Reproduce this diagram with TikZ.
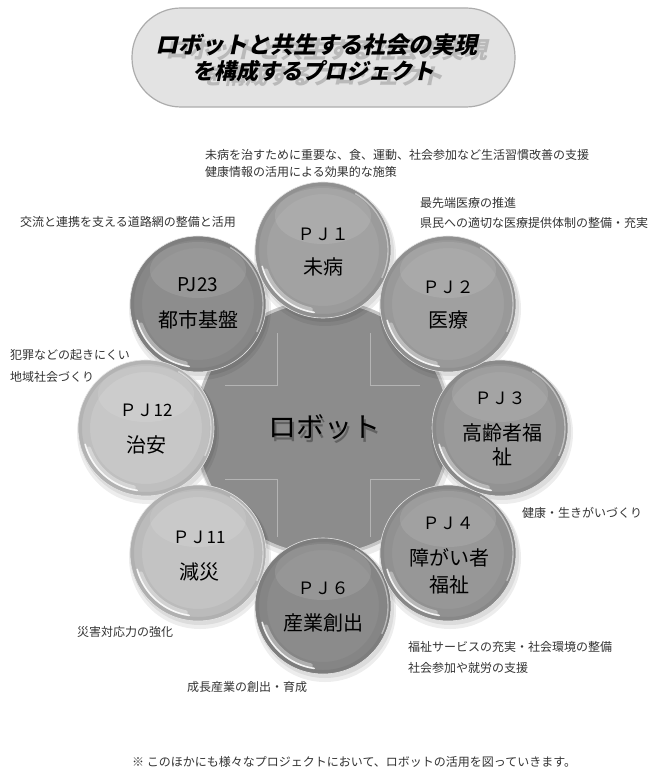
\documentclass[tikz,border=0pt]{standalone}
\usepackage{fontspec}
\setmainfont{Noto Sans CJK JP}
\newfontfamily\jp{Noto Sans CJK JP}
\newfontfamily\titlefont[FakeSlant=0.22]{Noto Sans CJK JP}
\definecolor{cA}{HTML}{A2A2A2}
\definecolor{cB}{HTML}{A0A0A0}
\definecolor{cC}{HTML}{9A9A9A}
\definecolor{cD}{HTML}{979797}
\definecolor{cE}{HTML}{8B8B8B}
\definecolor{cF}{HTML}{C3C3C3}
\definecolor{cG}{HTML}{C7C7C7}
\definecolor{cH}{HTML}{8D8D8D}
\definecolor{cCenter}{HTML}{8C8C8C}
\definecolor{txt}{HTML}{333333}
\tikzset{
  lbl/.style={anchor=west, inner sep=0pt, text=txt, font=\jp\fontsize{12}{14}\selectfont},
  ttl/.style={inner sep=0pt, font=\titlefont\bfseries\fontsize{23}{26}\selectfont},
  ttlb/.style={inner sep=0pt, font=\titlefont\bfseries\fontsize{22}{25}\selectfont},
  pjf/.style={inner sep=0pt, text=black, font=\jp\fontsize{17}{19}\selectfont},
  nmf/.style={inner sep=0pt, text=black, font=\jp\fontsize{20}{22}\selectfont},
  sat/.style={circle, minimum size=136pt, inner sep=0pt, draw=white!80!gray, line width=0.6pt,
    path picture={
      \draw[black, opacity=0.04, line width=12pt] (path picture bounding box.center) circle (62pt);
      \draw[black, opacity=0.06, line width=4pt] (path picture bounding box.center) circle (66pt);
      \fill[white, opacity=0.10] ([yshift=34pt]path picture bounding box.center) ellipse (48pt and 28pt);
      \draw[white, opacity=0.35, line width=5pt, line cap=round]
        ([shift={(200:61pt)}]path picture bounding box.center) arc[start angle=200, end angle=258, radius=61pt];
      \draw[white, opacity=0.85, line width=1.6pt, line cap=round]
        ([shift={(195:63pt)}]path picture bounding box.center) arc[start angle=195, end angle=262, radius=63pt];
      \draw[white, opacity=0.45, line width=1.4pt, line cap=round]
        ([shift={(-25:65pt)}]path picture bounding box.center) arc[start angle=-25, end angle=60, radius=65pt];
    }},
  shd/.style={fill=black, opacity=0.07}
}
\begin{document}
\begin{tikzpicture}[x=1pt,y=-1pt]
\path[use as bounding box] (0,0) rectangle (667,770);
\fill[white] (0,0) rectangle (667,770);

% title
\node[draw=gray!65, line width=1.2pt, fill=gray!22, rounded corners=49pt,
      minimum width=383pt, minimum height=99pt, inner sep=0pt] (title) at (323.5,57.5) {};
\node[ttl, text=gray!55] (t1s) at (326,50) {ロボットと共生する社会の実現};
\node[ttlb, text=gray!55] (t2s) at (322,76) {を構成するプロジェクト};
\node[ttl, text=black] (t1) at (316,45) {ロボットと共生する社会の実現};
\node[ttlb, text=black] (t2) at (313,71) {を構成するプロジェクト};

% center circle
\fill[black, opacity=0.08] (325,432) circle (130pt);
\node[circle, minimum size=254pt, inner sep=0pt, fill=cCenter, draw=gray!45, line width=3pt] (robot) at (323,428) {};
\begin{scope}[gray!45, line width=0.5pt, opacity=0.7]
\draw (225,385) -- (277,385) -- (277,333);
\draw (420,385) -- (370,385) -- (370,333);
\draw (225,479) -- (277,479) -- (277,537);
\draw (420,479) -- (370,479) -- (370,537);
\end{scope}
\node[inner sep=0pt, text=black, opacity=0.3, font=\jp\fontsize{28}{32}\selectfont] (robots) at (326,431) {ロボット};
\node[inner sep=0pt, text=black, font=\jp\fontsize{28}{32}\selectfont] (robotlbl) at (324,427) {ロボット};

% shadows of satellites
\foreach \x/\y in {323/250, 448/304, 500/428, 448/553, 323/606, 198/553, 146/428, 198/304}{
  \fill[shd] (\x+2,\y+5) circle (71pt);
  \fill[shd] (\x+2,\y+3) circle (69pt);
}

% satellites
\node[sat, fill=cH] (pj23) at (198,304) {};
\node[sat, fill=cG] (pj12) at (146,428) {};
\node[sat, fill=cF] (pj11) at (198,553) {};
\node[sat, fill=cE] (pj6) at (323,606) {};
\node[sat, fill=cD] (pj4) at (448,553) {};
\node[sat, fill=cC] (pj3) at (500,428) {};
\node[sat, fill=cB] (pj2) at (448,304) {};
\node[sat, fill=cA] (pj1) at (323,250) {};

% satellite texts
\node[pjf] (pj1a) at (323,234) {ＰＪ１};
\node[nmf] (pj1b) at (323,267) {未病};
\node[pjf] (pj2a) at (448,287) {ＰＪ２};
\node[nmf] (pj2b) at (448,320) {医療};
\node[pjf] (pj3a) at (500,398) {ＰＪ３};
\node[nmf] (pj3b) at (502,433) {高齢者福};
\node[nmf] (pj3c) at (502,457) {祉};
\node[pjf] (pj4a) at (448,523) {ＰＪ４};
\node[nmf] (pj4b) at (449,558) {障がい者};
\node[nmf] (pj4c) at (449,585) {福祉};
\node[pjf] (pj6a) at (323,588) {ＰＪ６};
\node[nmf] (pj6b) at (323,623) {産業創出};
\node[pjf] (pj11a) at (199,537) {ＰＪ11};
\node[nmf] (pj11b) at (199,572) {減災};
\node[pjf] (pj12a) at (146,410) {ＰＪ12};
\node[nmf] (pj12b) at (146,445) {治安};
\node[nmf, font=\jp\fontsize{19}{21}\selectfont] (pj23a) at (198,285) {PJ23};
\node[nmf] (pj23b) at (198,320) {都市基盤};

% descriptions
\node[lbl] (d1a) at (205,155) {未病を治すために重要な、食、運動、社会参加など生活習慣改善の支援};
\node[lbl] (d1b) at (205,172) {健康情報の活用による効果的な施策};
\node[lbl] (d2a) at (420,203) {最先端医療の推進};
\node[lbl] (d2b) at (420,223) {県民への適切な医療提供体制の整備・充実};
\node[lbl] (d23) at (20,222) {交流と連携を支える道路網の整備と活用};
\node[lbl] (d12a) at (10,355) {犯罪などの起きにくい};
\node[lbl] (d12b) at (10,377) {地域社会づくり};
\node[lbl] (d3) at (522,513) {健康・生きがいづくり};
\node[lbl] (d4a) at (408,647) {福祉サービスの充実・社会環境の整備};
\node[lbl] (d4b) at (408,668) {社会参加や就労の支援};
\node[lbl] (d11) at (77,632) {災害対応力の強化};
\node[lbl] (d6) at (187,687) {成長産業の創出・育成};
\node[lbl] (foot) at (132,762) {※ このほかにも様々なプロジェクトにおいて、ロボットの活用を図っていきます。};
\end{tikzpicture}
\end{document}
